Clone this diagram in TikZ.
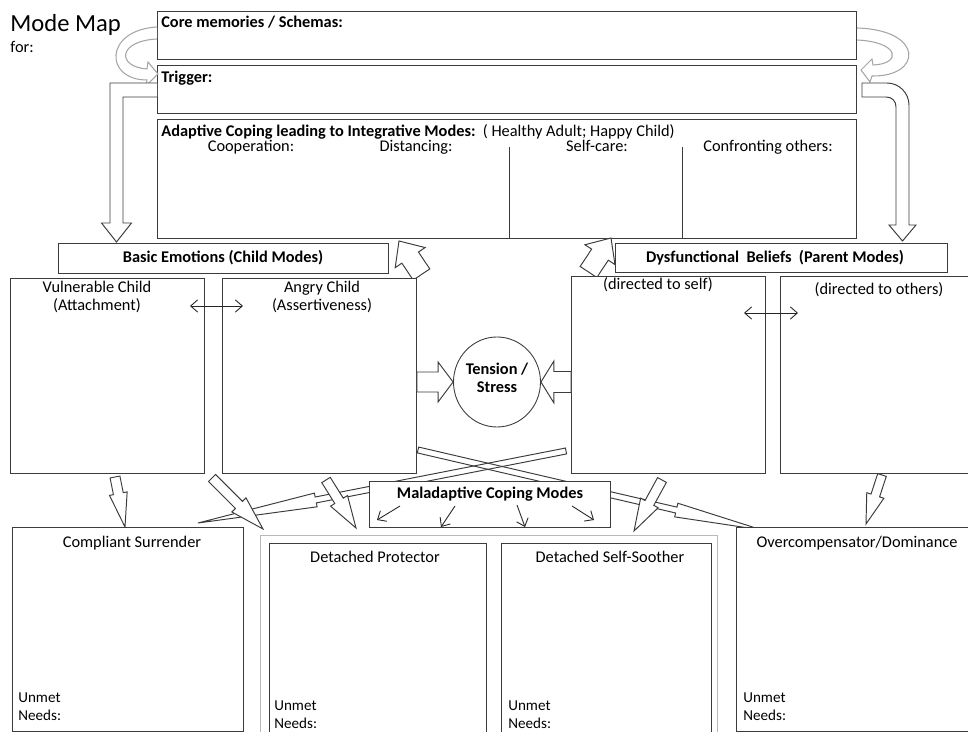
\documentclass[tikz,border=0pt]{standalone}
\usepackage{fontspec}
\setmainfont{Carlito}
\usetikzlibrary{calc, shapes.geometric, arrows.meta}

\definecolor{linegray}{RGB}{60,60,60}
\definecolor{softgray}{RGB}{165,165,165}
\definecolor{groupgray}{RGB}{185,185,185}

\tikzset{
    box/.style 2 args={draw=linegray, fill=white, line width=0.55pt, inner sep=0pt,
        anchor=north west, minimum width=#1*0.02cm, minimum height=#2*0.02cm},
    txt/.style={inner sep=0pt, font=\fontsize{9.3}{10.2}\selectfont},
    btxt/.style={inner sep=0pt, font=\fontsize{9.3}{10.2}\selectfont\bfseries},
    smalltxt/.style={inner sep=0pt, font=\fontsize{8.6}{10.2}\selectfont},
    blockarr/.style={draw=linegray, fill=white, line width=0.55pt, line join=miter},
    curvearr/.style={draw=softgray, fill=white, line width=0.6pt},
    thinarr/.style={draw=black!85, line width=0.5pt},
    divider/.style={draw=linegray, line width=0.55pt},
}

% block arrow: [options]{tail}{tip}{shaft half width}{head half width}{head length}, in px
\newcommand{\blockarrow}[6][]{%
    \coordinate (ba-h) at ($(#3)!#6*0.02cm!(#2)$);
    \filldraw[blockarr, #1] ($(#2)!#4*0.02cm!90:(#3)$) -- ($(ba-h)!#4*0.02cm!-90:(#2)$)
        -- ($(ba-h)!#5*0.02cm!-90:(#2)$) -- (#3) -- ($(ba-h)!#5*0.02cm!90:(#2)$)
        -- ($(ba-h)!#4*0.02cm!90:(#2)$) -- ($(#2)!#4*0.02cm!-90:(#3)$) -- cycle;}

\begin{document}
\begin{tikzpicture}[x=0.02cm, y=-0.02cm, >={Straight Barb[length=4pt, width=7pt]}]
    \useasboundingbox (0,0) rectangle (968,732);
    \clip (0,0) rectangle (968,732);

    % ===== Title =====
    \node[txt, anchor=base west, font=\fontsize{14}{16}\selectfont] (title) at (10,32) {Mode Map};
    \node[txt, anchor=base west] (forlbl) at (10,53) {for:};

    % ===== Top bands =====
    \node[box={699}{48}] (core) at (157,11) {};
    \node[btxt, anchor=base west] (coretxt) at (161,28) {Core memories / Schemas:};
    \node[box={699}{48}] (trigger) at (157,65) {};
    \node[btxt, anchor=base west] (triggertxt) at (161,83) {Trigger:};
    \node[box={699}{119}] (adaptive) at (157,119) {};
    \node[txt, anchor=base west] (adaptivetxt) at (161,137)
        {\bfseries Adaptive Coping leading to Integrative Modes:\ \ \mdseries( Healthy Adult; Happy Child)};
    \node[txt, anchor=base] (coop) at (251,152) {Cooperation:};
    \node[txt, anchor=base] (dist) at (416,152) {Distancing:};
    \node[txt, anchor=base] (selfcare) at (597,152) {Self-care:};
    \node[txt, anchor=base] (confront) at (768,152) {Confronting others:};
    \draw[divider] (509,147) -- (509,238);
    \draw[divider] (682,147) -- (682,238);

    % loop arrows, schemas <-> trigger
    \filldraw[curvearr] (157,27) .. controls (104,30) and (104,80) .. (147,80) -- (146,86)
        -- (158,74) -- (148,62) -- (147,69) .. controls (117,67) and (117,41) .. (157,39);
    \filldraw[curvearr] (857,28) .. controls (925,30) and (922,77) .. (872,76) -- (870,82)
        -- (861,70) -- (872,59) -- (873,65) .. controls (902,64) and (900,42) .. (857,40);

    % trigger down to both sides
    \filldraw[blockarr] (157,83) -- (110,83) -- (110,223) -- (101.5,223) -- (116.5,242)
        -- (131.5,223) -- (123,223) -- (123,97) -- (157,97);
    \filldraw[blockarr] (862,83) -- (887,83) .. controls (899,83) and (909,93) .. (909,105)
        -- (909,225) -- (916,225) -- (902.5,241) -- (889,225) -- (896,225) -- (896,107)
        .. controls (896,101) and (892,97) .. (886,97) -- (862,97) -- cycle;

    % ===== Emotions / beliefs headers =====
    \node[box={330}{30}] (basicemo) at (58,243) {};
    \node[btxt, anchor=base] (basicemotxt) at (223,263) {Basic Emotions (Child Modes)};
    \node[box={332}{29}] (dysbel) at (615,243) {};
    \node[btxt, anchor=base] (dysbeltxt) at (775,263) {Dysfunctional\ \ Beliefs\ \ (Parent Modes)};

    \coordinate (upl-tail) at (421.5,274.5);
    \coordinate (upl-tip) at (399,241);
    \blockarrow{upl-tail}{upl-tip}{10}{18}{20}
    \coordinate (upr-tail) at (588.5,272);
    \coordinate (upr-tip) at (611,238);
    \blockarrow{upr-tail}{upr-tip}{10}{18}{20}

    % ===== Child modes =====
    \node[box={194}{195}] (vulnchild) at (10,278) {};
    \node[txt, anchor=base] (vulntxt) at (97,293) {Vulnerable Child};
    \node[txt, anchor=base] (vulnsub) at (97,311) {(Attachment)};
    \node[box={194}{195}] (angrychild) at (222,278) {};
    \node[txt, anchor=base] (angrytxt) at (322,293) {Angry Child};
    \node[txt, anchor=base] (angrysub) at (322,311) {(Assertiveness)};
    \coordinate (va-l) at (190,306);
    \coordinate (va-r) at (243,306);
    \draw[thinarr, <->] (va-l) -- (va-r);

    % ===== Parent modes =====
    \node[box={194}{197}] (dirself) at (571,276) {};
    \node[txt, anchor=base] (selftxt) at (658,290) {(directed to self)};
    \node[box={200}{197}] (dirothers) at (780,276) {};
    \node[txt, anchor=base] (otherstxt) at (879,295) {(directed to others)};
    \coordinate (so-l) at (744,313);
    \coordinate (so-r) at (798,313);
    \draw[thinarr, <->] (so-l) -- (so-r);

    % ===== Tension =====
    \node[draw=linegray, line width=0.5pt, ellipse, inner sep=0pt,
        minimum width=87*0.02cm, minimum height=90*0.02cm] (tension) at (497,382) {};
    \node[btxt, anchor=base] (tensiontxt) at (497,375) {Tension /};
    \node[btxt, anchor=base] (stresstxt) at (497,393) {Stress};
    \coordinate (ta-tail) at (angrychild.east |- tension.center);
    \coordinate (ta-tip) at (tension.west);
    \blockarrow{ta-tail}{ta-tip}{10}{20}{15}
    \coordinate (ts-tail) at (dirself.west |- tension.center);
    \coordinate (ts-tip) at (tension.east);
    \blockarrow{ts-tail}{ts-tip}{10.5}{21}{13}

    % crossing arrows
    \coordinate (xa-tail) at (418,450);
    \coordinate (xa-tip) at (762,530);
    \blockarrow[fill=none]{xa-tail}{xa-tip}{3}{7}{88}
    \coordinate (xb-tail) at (566,451);
    \coordinate (xb-tip) at (198,523);
    \blockarrow[fill=none]{xb-tail}{xb-tip}{3}{7}{120}

    % ===== Maladaptive coping =====
    \node[box={241}{46}] (maladaptive) at (369,481) {};
    \node[btxt, anchor=base] (maladaptivetxt) at (490,499) {Maladaptive Coping Modes};
    \coordinate (m1a) at (400,506); \coordinate (m1b) at (377,520);
    \coordinate (m2a) at (455,506); \coordinate (m2b) at (441,527);
    \coordinate (m3a) at (517,505); \coordinate (m3b) at (525,527);
    \coordinate (m4a) at (572,506); \coordinate (m4b) at (594,520);
    \foreach \s/\e in {m1a/m1b, m2a/m2b, m3a/m3b, m4a/m4b}
        \draw[thinarr, ->] (\s) -- (\e);

    % down arrows
    \coordinate (dv-tail) at (115,477);
    \coordinate (dv-tip) at (125,527);
    \blockarrow{dv-tail}{dv-tip}{5}{9}{34}
    \coordinate (da-tail) at (212,478);
    \coordinate (da-tip) at (263,529);
    \blockarrow{da-tail}{da-tip}{5}{10}{34}
    \coordinate (db-tail) at (326,480);
    \coordinate (db-tip) at (356,528);
    \blockarrow{db-tail}{db-tip}{5}{10}{32}
    \coordinate (ds-tail) at (662,480);
    \coordinate (ds-tip) at (634,531);
    \blockarrow{ds-tail}{ds-tip}{5}{10}{32}
    \coordinate (do-tail) at (882,475);
    \coordinate (do-tip) at (866,524);
    \blockarrow{do-tail}{do-tip}{4.5}{9}{30}

    % ===== Coping mode boxes =====
    \node[box={231}{204}] (compliant) at (12,527) {};
    \node[txt, anchor=base] (complianttxt) at (132,548) {Compliant Surrender};
    \node[box={457}{220}, draw=groupgray] (detgroup) at (260,535) {};
    \node[box={217}{200}] (detprot) at (269,543) {};
    \node[txt, anchor=base] (detprottxt) at (375,563) {Detached Protector};
    \node[box={210}{200}] (detsoothe) at (501,543) {};
    \node[txt, anchor=base] (detsoothetxt) at (610,563) {Detached Self-Soother};
    \node[box={240}{204}] (overcomp) at (736,527) {};
    \node[txt, anchor=base] (overcomptxt) at (857,548) {Overcompensator/Dominance};

    \foreach \nm/\x/\y in {compliant/18/703, detprot/274/711, detsoothe/508/711, overcomp/743/703} {
        \node[smalltxt, anchor=base west] (\nm-unmet) at (\x,\y) {Unmet};
        \node[smalltxt, anchor=base west] (\nm-needs) at (\x,\y+18) {Needs:};
    }

\end{tikzpicture}
\end{document}
